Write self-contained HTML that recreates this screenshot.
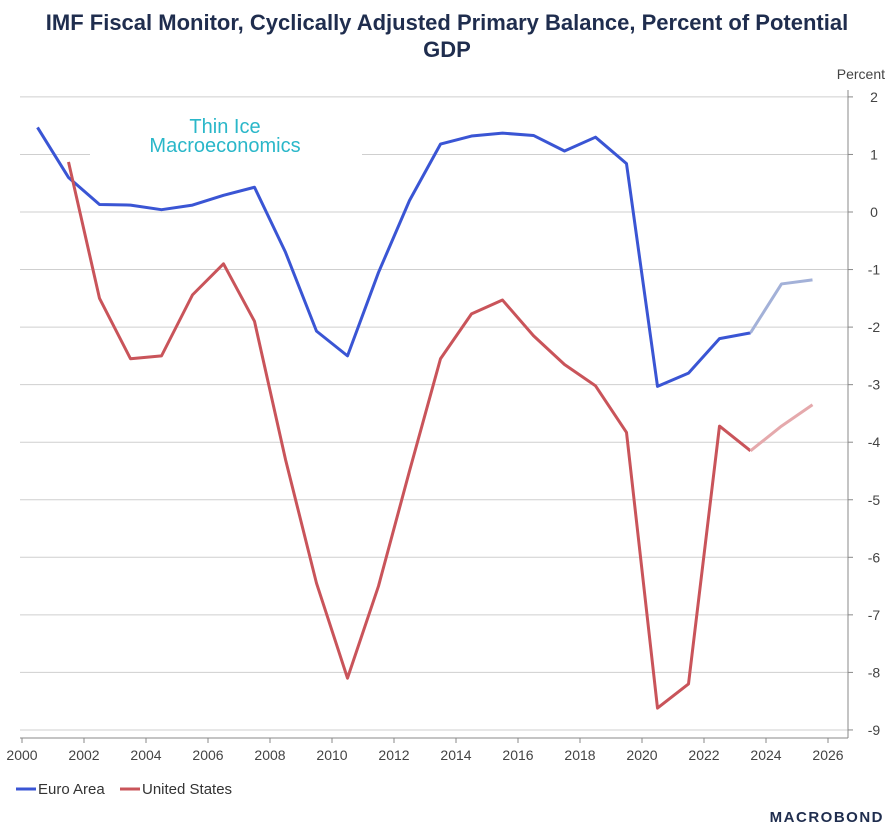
<!DOCTYPE html>
<html><head><meta charset="utf-8"><style>
body{margin:0;background:#fff;width:891px;height:832px;overflow:hidden;font-family:"Liberation Sans",Arial,sans-serif}
</style></head><body>
<svg id="c" width="891" height="832" xmlns="http://www.w3.org/2000/svg">
<text x="447" y="30" text-anchor="middle" font-size="22" font-weight="bold" fill="#1f2d4e">IMF Fiscal Monitor, Cyclically Adjusted Primary Balance, Percent of Potential</text>
<text x="447" y="57" text-anchor="middle" font-size="22" font-weight="bold" fill="#1f2d4e">GDP</text>
<text x="885" y="79" text-anchor="end" font-size="14" fill="#444">Percent</text>
<g id="grid"></g>
<g id="axes"></g>
<rect x="90" y="112" width="272" height="48" fill="#fff"/>
<text x="225" y="133" text-anchor="middle" font-size="20" fill="#2ab7c9">Thin Ice</text>
<text x="225" y="152" text-anchor="middle" font-size="20" fill="#2ab7c9">Macroeconomics</text>
<g id="series"></g>
<line x1="16" y1="789" x2="36" y2="789" stroke="#3a55d4" stroke-width="3"/>
<text x="38" y="794" font-size="15" fill="#333">Euro Area</text>
<line x1="120" y1="789" x2="140" y2="789" stroke="#c9545a" stroke-width="3"/>
<text x="142" y="794" font-size="15" fill="#333">United States</text>
<text x="884" y="822" text-anchor="end" font-size="15" font-weight="bold" letter-spacing="1.5" fill="#1f2d4e">MACROBOND</text>
</svg>
<script>
const years=[2000,2001,2002,2003,2004,2005,2006,2007,2008,2009,2010,2011,2012,2013,2014,2015,2016,2017,2018,2019,2020,2021,2022,2023,2024,2025];
const euroArea=[1.47,0.6,0.13,0.12,0.04,0.12,0.29,0.43,-0.7,-2.07,-2.5,-1.05,0.2,1.18,1.32,1.37,1.33,1.06,1.3,0.84,-3.03,-2.8,-2.2,-2.1,-1.25,-1.18];
const unitedStates=[null,0.87,-1.5,-2.55,-2.5,-1.44,-0.9,-1.9,-4.3,-6.45,-8.1,-6.5,-4.5,-2.55,-1.77,-1.53,-2.15,-2.65,-3.02,-3.83,-8.62,-8.2,-3.72,-4.15,-3.72,-3.35];
const forecastStart=2023;
const yTicks=[2,1,0,-1,-2,-3,-4,-5,-6,-7,-8,-9];
const xTicks=[2000,2002,2004,2006,2008,2010,2012,2014,2016,2018,2020,2022,2024,2026];
const NS="http://www.w3.org/2000/svg";
const X=y=>22+(y-2000)*31, Y=v=>212-v*57.55;
function mk(t,a,p){const e=document.createElementNS(NS,t);for(const k in a)e.setAttribute(k,a[k]);p.appendChild(e);return e;}
const g=document.getElementById('grid'),ax=document.getElementById('axes'),s=document.getElementById('series');
yTicks.forEach(v=>{
 const l=mk('line',{x1:20,x2:848,y1:Y(v),y2:Y(v),stroke:'#cfcfcf','stroke-width':1},g);
 
 
 mk('line',{x1:848,x2:853,y1:Y(v),y2:Y(v),stroke:'#888'},ax);
 const t=mk('text',{x:874,y:Y(v)+5,'text-anchor':'middle','font-size':14,fill:'#444'},ax);t.textContent=String(v);
 
 
});
mk('line',{x1:848,x2:848,y1:90,y2:738,stroke:'#888'},ax);
mk('line',{x1:20,x2:848,y1:738,y2:738,stroke:'#888'},ax);
xTicks.forEach(y=>{
 mk('line',{x1:X(y),x2:X(y),y1:738,y2:743,stroke:'#888'},ax);
 const t=mk('text',{x:X(y),y:760,'text-anchor':'middle','font-size':14,fill:'#444'},ax);t.textContent=y;
 
 
});
function draw(arr,col,fcol,name){
 let a=[],b=[];
 arr.forEach((v,i)=>{if(v==null)return;const p=X(years[i]+0.5)+','+Y(v);if(years[i]<=forecastStart)a.push(p);if(years[i]>=forecastStart)b.push(p);});
 const l1=mk('polyline',{points:a.join(' '),fill:'none',stroke:col,'stroke-width':3,'stroke-linejoin':'round'},s);
 
 
 const l2=mk('polyline',{points:b.join(' '),fill:'none',stroke:fcol,'stroke-width':3,'stroke-linejoin':'round'},s);
 
 
}
draw(euroArea,'#3a55d4','#a3b1d8','euro-area');
draw(unitedStates,'#c9545a','#e5a9ac','united-states');
</script>
</body></html>
